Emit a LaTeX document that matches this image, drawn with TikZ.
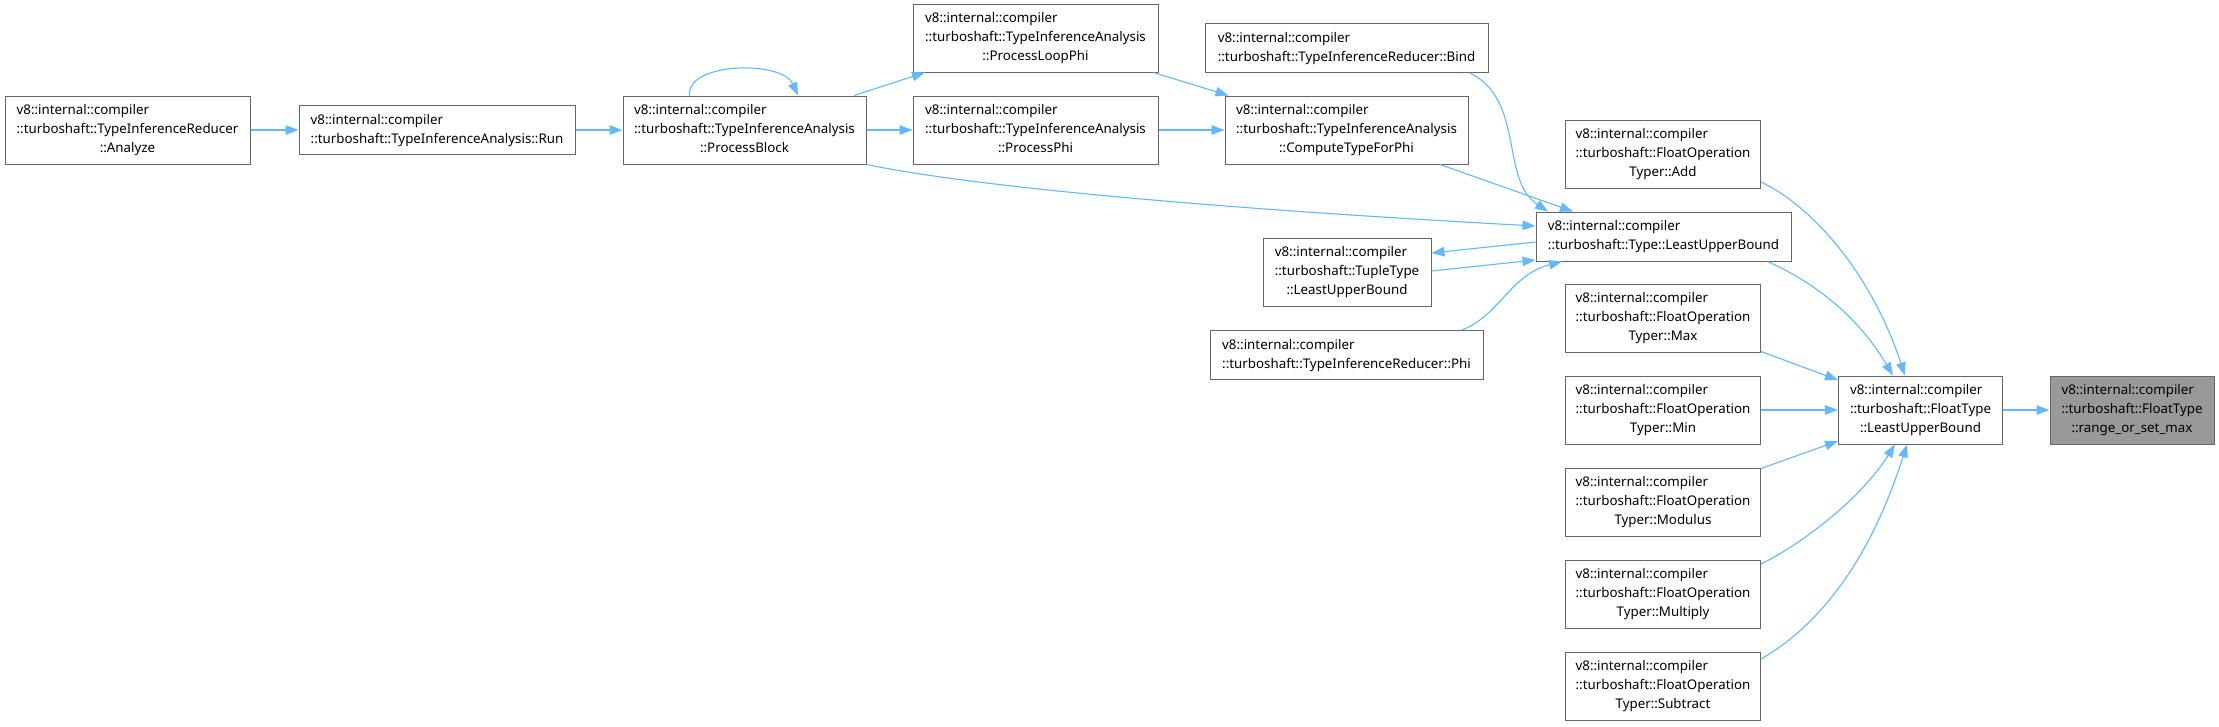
\documentclass[tikz,border=0pt]{standalone}
\usepackage{fontspec}
\setmainfont{Noto Sans}
\usetikzlibrary{arrows.meta}
\definecolor{edgeblue}{HTML}{63B8FF}
\definecolor{boxgray}{HTML}{666666}
\definecolor{focusfill}{HTML}{999999}
\newcommand{\twol}[2]{\begin{tabular}{@{}l@{}}#1\\#2\end{tabular}}
\newcommand{\threel}[3]{\begin{tabular}{@{}l@{}}#1\\#2\\\multicolumn{1}{@{}c@{}}{#3}\end{tabular}}
\tikzset{
  box/.style={draw=boxgray, fill=white, line width=1pt, inner xsep=4pt, inner ysep=5.5pt,
    font=\fontsize{13.33}{19}\selectfont},
  focus/.style={box, fill=focusfill},
  edge/.style={draw=edgeblue, line width=1.1pt, -{Triangle[length=13pt,width=9.5pt]}}
}
\begin{document}
\begin{tikzpicture}[x=1pt,y=-1pt]
\fill[white] (0,0) rectangle (2219,726);
\useasboundingbox (0,0) rectangle (2219,726);
% nodes
\node[box, minimum width=245pt] (an) at (127.5,130) {\threel{v8::internal::compiler}{::turboshaft::TypeInferenceReducer}{::Analyze}};
\node[box, minimum width=276pt] (run) at (437,130) {\twol{v8::internal::compiler}{::turboshaft::TypeInferenceAnalysis::Run}};
\node[box, minimum width=243pt] (pb) at (744.5,130) {\threel{v8::internal::compiler}{::turboshaft::TypeInferenceAnalysis}{::ProcessBlock}};
\node[box, minimum width=245pt] (plp) at (1035.5,38) {\threel{v8::internal::compiler}{::turboshaft::TypeInferenceAnalysis}{::ProcessLoopPhi}};
\node[box, minimum width=245pt] (pp) at (1035.5,130) {\threel{v8::internal::compiler}{::turboshaft::TypeInferenceAnalysis}{::ProcessPhi}};
\node[box, minimum width=283pt] (bind) at (1346.5,48) {\twol{v8::internal::compiler}{::turboshaft::TypeInferenceReducer::Bind}};
\node[box, minimum width=243pt] (ctfp) at (1346.5,130) {\threel{v8::internal::compiler}{::turboshaft::TypeInferenceAnalysis}{::ComputeTypeForPhi}};
\node[box, minimum width=255pt] (tlub) at (1663.5,236.5) {\twol{v8::internal::compiler}{::turboshaft::Type::LeastUpperBound}};
\node[box, minimum width=168pt] (tuple) at (1347,272) {\threel{v8::internal::compiler}{::turboshaft::TupleType}{::LeastUpperBound}};
\node[box, minimum width=273pt] (phi) at (1346.5,355) {\twol{v8::internal::compiler}{::turboshaft::TypeInferenceReducer::Phi}};
\node[box, minimum width=195pt] (add) at (1663,154) {\threel{v8::internal::compiler}{::turboshaft::FloatOperation}{Typer::Add}};
\node[box, minimum width=195pt] (max) at (1663,318) {\threel{v8::internal::compiler}{::turboshaft::FloatOperation}{Typer::Max}};
\node[box, minimum width=195pt] (min) at (1663,410) {\threel{v8::internal::compiler}{::turboshaft::FloatOperation}{Typer::Min}};
\node[box, minimum width=195pt] (mod) at (1663,502) {\threel{v8::internal::compiler}{::turboshaft::FloatOperation}{Typer::Modulus}};
\node[box, minimum width=195pt] (mult) at (1663,594) {\threel{v8::internal::compiler}{::turboshaft::FloatOperation}{Typer::Multiply}};
\node[box, minimum width=195pt] (sub) at (1663,686) {\threel{v8::internal::compiler}{::turboshaft::FloatOperation}{Typer::Subtract}};
\node[box, minimum width=164pt] (ftlub) at (1920.5,410) {\threel{v8::internal::compiler}{::turboshaft::FloatType}{::LeastUpperBound}};
\node[focus, minimum width=164pt] (rsm) at (2132,410) {\threel{v8::internal::compiler}{::turboshaft::FloatType}{::range\_or\_set\_max}};
% edges
\draw[edge] (an.east) -- (run.west);
\draw[edge] (run.east) -- (pb.west);
\draw[edge] ([xshift=-55pt]pb.north) .. controls (686,62) and (782,60) .. ([xshift=53.5pt]pb.north);
\draw[edge] ([xshift=109.5pt]pb.north) -- ([xshift=-110.5pt]plp.south);
\draw[edge] (pb.east) -- (pp.west);
\draw[edge] (pb.south east) .. controls (950,182) and (1150,205) .. ([yshift=10.5pt]tlub.west);
\draw[edge] ([xshift=-5pt]plp.south east) -- ([xshift=4pt]ctfp.north west);
\draw[edge] (pp.east) -- (ctfp.west);
\draw[edge] ([xshift=93.5pt]ctfp.south) -- ([xshift=-90.5pt]tlub.north);
\draw[edge] ([xshift=123.5pt]bind.south) .. controls (1525,100) and (1500,180) .. ([xshift=-115.5pt]tlub.north);
\draw[edge] ([yshift=-5.5pt]tlub.west) -- ([yshift=19pt]tuple.east);
\draw[edge] ([yshift=1pt]tuple.east) -- ([yshift=-23.5pt]tlub.west);
\draw[edge] ([xshift=115.5pt]phi.north) .. controls (1500,315) and (1510,275) .. ([xshift=-101.5pt]tlub.south);
\draw[edge] ([xshift=-24pt]tlub.south east) .. controls (1820,285) and (1860,320) .. ([xshift=-27.5pt]ftlub.north);
\draw[edge] ([yshift=-28pt]add.east) .. controls (1810,205) and (1870,270) .. ([xshift=-15.5pt]ftlub.north);
\draw[edge] ([yshift=1pt]max.south east) -- ([yshift=30pt]ftlub.west);
\draw[edge] (min.east) -- (ftlub.west);
\draw[edge] ([yshift=-1pt]mod.north east) -- ([yshift=-31pt]ftlub.west);
\draw[edge] ([yshift=30pt]mult.east) .. controls (1800,545) and (1860,500) .. ([xshift=-25.5pt]ftlub.south);
\draw[edge] ([yshift=27pt]sub.east) .. controls (1820,625) and (1870,560) .. ([xshift=-13.5pt]ftlub.south);
\draw[edge] (ftlub.east) -- (rsm.west);
\end{tikzpicture}
\end{document}
